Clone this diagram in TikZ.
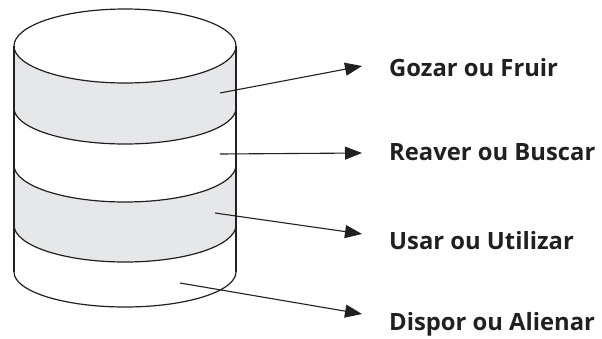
\documentclass[tikz,border=0pt]{standalone}
\usepackage{fontspec}
\setsansfont{Open Sans}
\usepackage{tikz}
\usetikzlibrary{arrows.meta}
\definecolor{LineDark}{RGB}{35,31,32}
\definecolor{BandGray}{RGB}{230,231,233}

\begin{document}
\begin{tikzpicture}[
  x=1pt, y=-1pt,
  outline/.style={draw=LineDark, line width=1.2pt},
  band/.style={fill=BandGray},
  label/.style={anchor=base west, inner sep=0pt, font=\sffamily\bfseries\fontsize{23.8}{27}\selectfont, text=LineDark},
  arrow/.style={-{Triangle[length=17pt,width=13pt]}, line width=1.1pt, draw=LineDark}
]
  \useasboundingbox (0,0) rectangle (602,338);

  % Gray bands
  \path[band] (14,46) arc[start angle=180, end angle=0, x radius=111, y radius=37]
    -- (236,108) arc[start angle=0, end angle=180, x radius=111, y radius=36] -- cycle;
  \path[band] (14,165) arc[start angle=180, end angle=0, x radius=111, y radius=37]
    -- (236,225) arc[start angle=0, end angle=180, x radius=111, y radius=37] -- cycle;

  % Cylinder
  \draw[outline] (125,46) ellipse[x radius=111, y radius=37];
  \draw[outline] (14,46) -- (14,272);
  \draw[outline] (236,46) -- (236,272);
  \foreach \y/\r in {108/36, 165/37, 225/37, 272/35}
    \draw[outline] (14,\y) arc[start angle=180, end angle=0, x radius=111, y radius=\r];

  % Nodes
  \node[label] (gozar) at (389,76) {Gozar ou Fruir};
  \node[label] (reaver) at (389,160) {Reaver ou Buscar};
  \node[label] (usar) at (389,249) {Usar ou Utilizar};
  \node[label] (dispor) at (389,330) {Dispor ou Alienar};

  \coordinate (gozarIn) at (220,93);
  \coordinate (reaverIn) at (220,154);
  \coordinate (usarIn) at (215,213);
  \coordinate (disporIn) at (180,283);
  \coordinate (gozarTip) at (362,66);
  \coordinate (reaverTip) at (362,153);
  \coordinate (usarTip) at (362,234);
  \coordinate (disporTip) at (362,314);

  % Lines / Arrows
  \draw[arrow] (gozarIn) -- (gozarTip);
  \draw[arrow] (reaverIn) -- (reaverTip);
  \draw[arrow] (usarIn) -- (usarTip);
  \draw[arrow] (disporIn) -- (disporTip);
\end{tikzpicture}
\end{document}
